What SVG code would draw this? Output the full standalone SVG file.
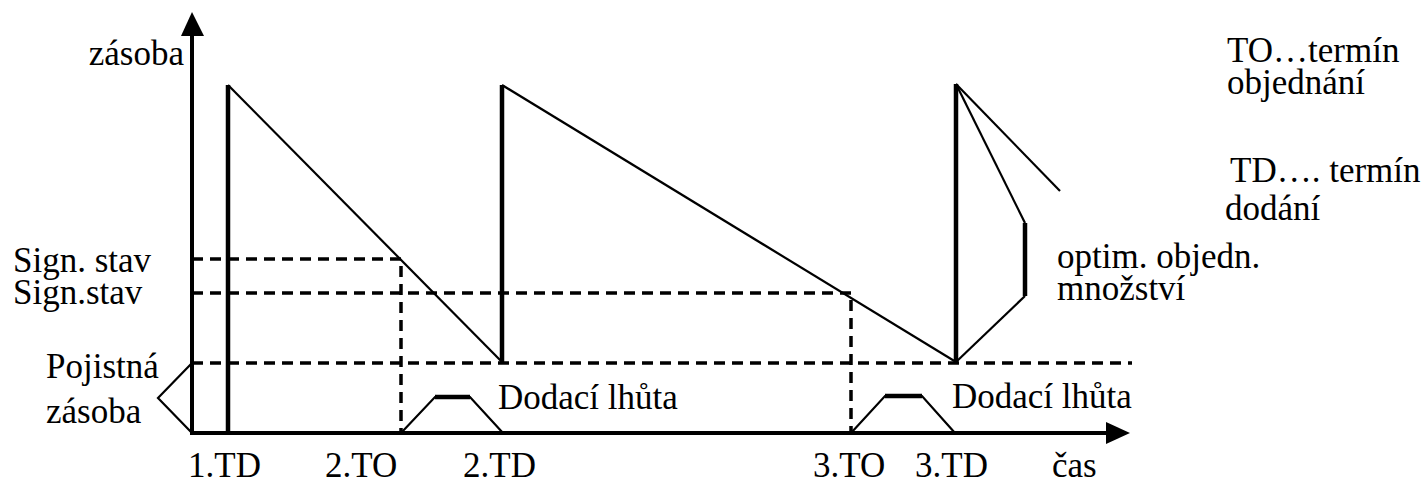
<svg xmlns="http://www.w3.org/2000/svg" width="1422" height="485" viewBox="0 0 1422 485">
<style>
text{font-family:"Liberation Serif","Times New Roman",serif;font-size:35px;fill:#000}
.ax{stroke:#000;stroke-width:4;fill:none}
.thick{stroke:#000;stroke-width:4.5;fill:none}
.thin{stroke:#000;stroke-width:2.2;fill:none;stroke-linejoin:miter}
.dash{stroke:#000;stroke-width:3.5;fill:none;stroke-dasharray:11 7}
</style>
<rect width="1422" height="485" fill="#fff"/>
<g id="axes">
<line class="ax" x1="192" y1="433" x2="192" y2="32"/>
<polygon points="192,12 181,36 204,36" fill="#000"/>
<line class="ax" x1="190" y1="433" x2="1110" y2="433"/>
<polygon points="1130,433 1106,422 1106,444" fill="#000"/>
</g>
<g id="connectors">
<g id="dashed">
<polyline class="dash" points="192,259 401,259 401,433"/>
<polyline class="dash" points="192,293 851,293 851,433"/>
<line class="dash" x1="192" y1="363" x2="1132" y2="363"/>
</g>
<g id="sawtooth">
<line class="thick" x1="228" y1="433" x2="228" y2="85"/>
<line class="thin" x1="228" y1="85" x2="502" y2="362"/>
<line class="thick" x1="502" y1="362" x2="502" y2="85"/>
<line class="thin" x1="502" y1="85" x2="956" y2="362"/>
<line class="thick" x1="956" y1="362" x2="956" y2="84"/>
<line class="thin" x1="956" y1="84" x2="1060" y2="191"/>
<polyline class="thin" points="956,84 1025,223"/>
<line class="thick" x1="1025" y1="223" x2="1025" y2="296"/>
<line class="thin" x1="1025" y1="296" x2="956" y2="362"/>
</g>
<g id="brackets">
<polyline class="thin" points="192,363 158,398 192,433"/>
<polyline class="thin" points="401,433 435,397 470,397 503,433"/>
<line class="thick" x1="435" y1="397" x2="470" y2="397"/>
<polyline class="thin" points="851,433 885,396 922,396 955,433"/>
<line class="thick" x1="885" y1="396" x2="922" y2="396"/>
</g>
</g>
<g id="labels">
<text x="184" y="65" text-anchor="end">zásoba</text>
<text x="13" y="272">Sign. stav</text>
<text x="13" y="304">Sign.stav</text>
<text x="46" y="378">Pojistná</text>
<text x="46" y="423">zásoba</text>
<text x="188" y="477">1.TD</text>
<text x="325" y="477">2.TO</text>
<text x="463" y="477">2.TD</text>
<text x="813" y="477">3.TO</text>
<text x="915" y="477">3.TD</text>
<text x="1052" y="477">čas</text>
<text x="498" y="409">Dodací lhůta</text>
<text x="952" y="408">Dodací lhůta</text>
<text x="1227" y="62">TO…termín</text>
<text x="1227" y="94">objednání</text>
<text x="1230" y="182">TD…. termín</text>
<text x="1225" y="220">dodání</text>
<text x="1057" y="268">optim. objedn.</text>
<text x="1057" y="300">množství</text>
</g>
</svg>
